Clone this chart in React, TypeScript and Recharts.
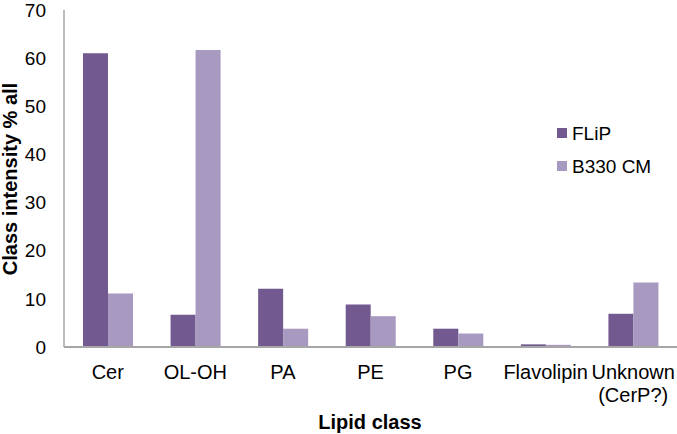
import React from 'react';
import { BarChart, Bar, XAxis, YAxis } from 'recharts';

const categories = ['Cer', 'OL-OH', 'PA', 'PE', 'PG', 'Flavolipin', 'Unknown\n(CerP?)'];
const flipValues = [61.0, 6.7, 12.1, 8.85, 3.8, 0.55, 6.9];
const b330Values = [11.1, 61.7, 3.8, 6.4, 2.8, 0.45, 13.4];
const yTicks = [0, 10, 20, 30, 40, 50, 60, 70];
const seriesNames = ['FLiP', 'B330 CM'];
const seriesColors = ['#72598F', '#A799BF'];

const data = categories.map((c, i) => ({ name: c, flip: flipValues[i], b330: b330Values[i] }));

const FONT = '"Liberation Sans", Arial, sans-serif';

const XTick = (props: any) => {
  const { x, y, payload } = props;
  const lines = String(payload.value).split('\n');
  return (
    <text x={x} y={y} textAnchor="middle" fontFamily={FONT} fontSize={20} fill="#000">
      {lines.map((l, i) => (
        <tspan key={i} x={x} dy={i === 0 ? 30 : 23}>{l}</tspan>
      ))}
    </text>
  );
};

export default function App() {
  return (
    <div style={{ position: 'absolute', left: 0, top: 0, width: 677, height: 434, background: '#fff' }}>
      <BarChart
        width={677}
        height={434}
        data={data}
        margin={{ top: 10, right: 0, left: 0, bottom: 27 }}
        barGap={0}
        barSize={25}
      >
        <XAxis
          dataKey="name"
          height={60}
          interval={0}
          tickLine={false}
          tickSize={0}
          tick={<XTick />}
          axisLine={{ stroke: '#A6A6A6', strokeWidth: 2 }}
        />
        <YAxis
          width={64}
          domain={[0, 70]}
          ticks={yTicks}
          tickLine={false}
          tickSize={0}
          tickMargin={18}
          interval={0}
          axisLine={{ stroke: '#A6A6A6', strokeWidth: 1.5 }}
          tick={{ fill: '#000', fontSize: 19, fontFamily: FONT }}
        />
        <Bar dataKey="flip" name={seriesNames[0]} fill={seriesColors[0]} isAnimationActive={false} />
        <Bar dataKey="b330" name={seriesNames[1]} fill={seriesColors[1]} isAnimationActive={false} />
        {seriesNames.map((n, i) => (
          <g key={n}>
            <rect x={557} y={128 + i * 33} width={10} height={10} fill={seriesColors[i]} />
            <text x={572} y={140 + i * 33} fontFamily={FONT} fontSize={19} fill="#000">{n}</text>
          </g>
        ))}
        <text x={17} y={179} transform="rotate(-90, 17, 179)" textAnchor="middle" fontFamily={FONT} fontSize={20} fontWeight="bold" fill="#000">
          Class intensity % all
        </text>
        <text x={370} y={429} textAnchor="middle" fontFamily={FONT} fontSize={20} fontWeight="bold" fill="#000">
          Lipid class
        </text>
      </BarChart>
    </div>
  );
}
